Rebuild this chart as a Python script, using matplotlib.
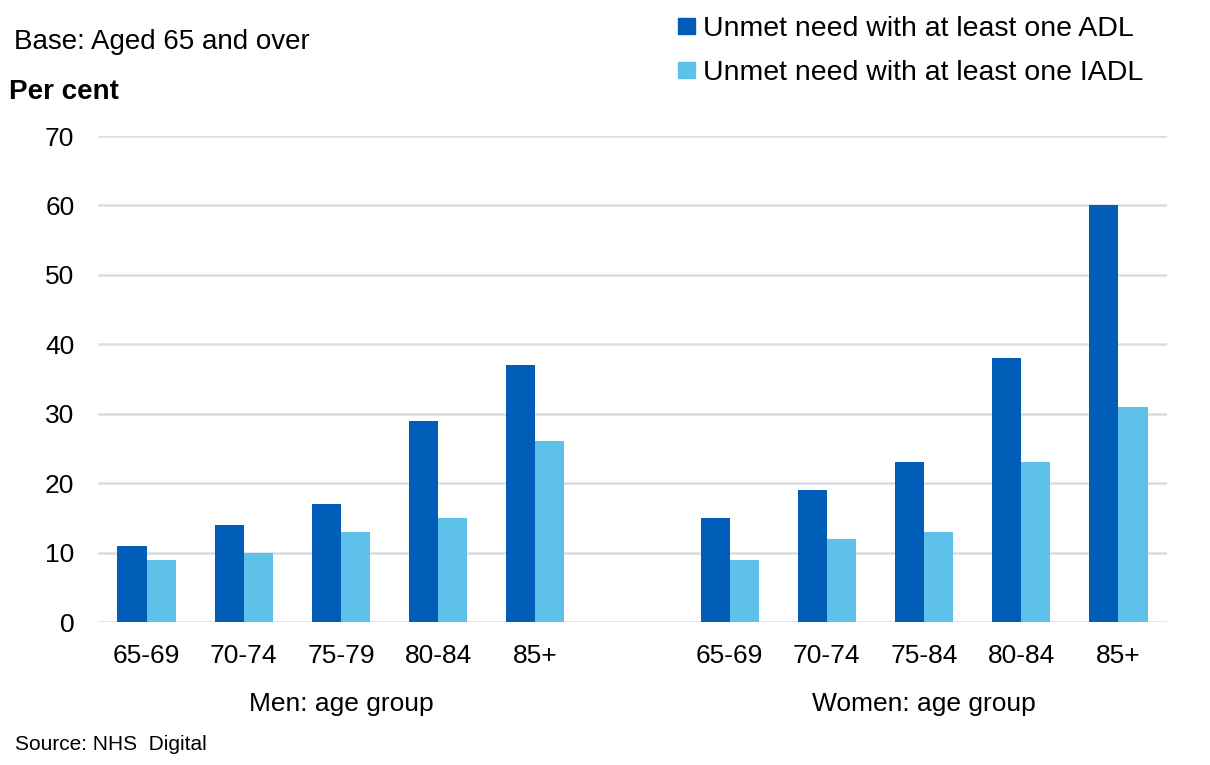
import numpy as np
import matplotlib.pyplot as plt

plt.rcParams['font.family'] = ['Liberation Sans', 'DejaVu Sans']

men_groups = ["65-69", "70-74", "75-79", "80-84", "85+"]
women_groups = ["65-69", "70-74", "75-84", "80-84", "85+"]
men_adl = [11, 14, 17, 29, 37]
men_iadl = [9, 10, 13, 15, 26]
women_adl = [15, 19, 23, 38, 60]
women_iadl = [9, 12, 13, 23, 31]

W, H = 1210, 765
fig = plt.figure(figsize=(W / 100, H / 100), dpi=100)
ax = fig.add_axes([98 / W, 1 - 622 / H, (1167 - 98) / W, (622 - 136) / H])

# men in slots 0-4, women in slots 6-10, slot 5 left empty
x_men = np.arange(5)
x_women = np.arange(5) + 6
bw = 0.3
dark = "#005EB8"
light = "#5EC1E9"

ax.bar(x_men - bw / 2, men_adl, bw, color=dark, zorder=3)
ax.bar(x_men + bw / 2, men_iadl, bw, color=light, zorder=3)
ax.bar(x_women - bw / 2, women_adl, bw, color=dark, zorder=3)
ax.bar(x_women + bw / 2, women_iadl, bw, color=light, zorder=3)

ax.set_xlim(-0.5, 10.5)
ax.set_ylim(0, 70)
ax.set_yticks(range(0, 71, 10))
ax.set_xticks(list(x_men) + list(x_women))
ax.set_xticklabels(men_groups + women_groups)
ax.tick_params(axis="both", length=0, labelsize=19, colors="#000000")
ax.tick_params(axis="x", pad=16)
ax.tick_params(axis="y", pad=17)
ax.grid(axis="y", color="#D9DDE3", linewidth=1.8, zorder=0)
for s in ax.spines.values():
    s.set_visible(False)

ax.text(2, -0.168, "Men: age group", transform=ax.get_xaxis_transform(),
        ha="center", va="center", fontsize=19)
ax.text(8, -0.168, "Women: age group", transform=ax.get_xaxis_transform(),
        ha="center", va="center", fontsize=19)

fig.text(14 / W, 1 - 42 / H, "Base: Aged 65 and over", fontsize=20,
         va="center", ha="left")
fig.text(9 / W, 1 - 92 / H, "Per cent", fontsize=20, fontweight="bold",
         va="center", ha="left")
fig.text(15 / W, 1 - 745 / H, "Source: NHS  Digital", fontsize=15,
         va="center", ha="left")

handles = [plt.Rectangle((0, 0), 1, 1, color=dark),
           plt.Rectangle((0, 0), 1, 1, color=light)]
fig.legend(handles, ["Unmet need with at least one ADL",
                     "Unmet need with at least one IADL"],
           loc="upper left", bbox_to_anchor=(664 / W, 1 - 2 / H),
           frameon=False, fontsize=20.5, handlelength=0.6, handleheight=0.5,
           handletextpad=0.28, labelspacing=0.62, borderpad=0)

fig.savefig("out.png", dpi=100, facecolor="white")
